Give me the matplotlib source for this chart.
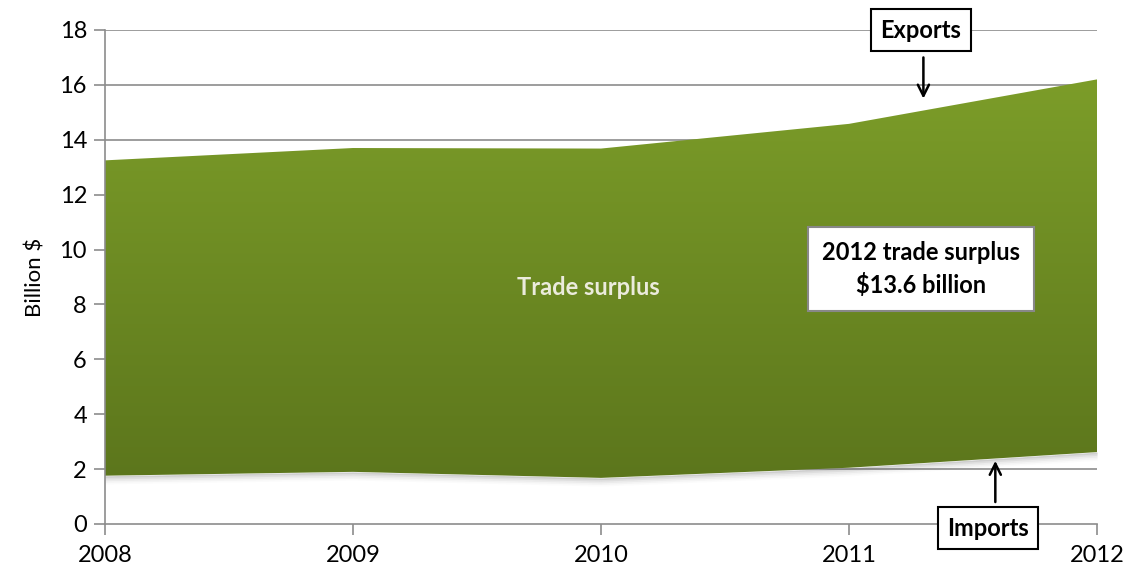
import matplotlib.pyplot as plt
import numpy as np
from matplotlib.colors import LinearSegmentedColormap

years = [2008, 2009, 2010, 2011, 2012]
exports = [13.25, 13.7, 13.68, 14.58, 16.2]
imports = [1.76, 1.9, 1.68, 2.05, 2.62]
yticks = [0, 2, 4, 6, 8, 10, 12, 14, 16, 18]

plt.rcParams['font.family'] = ['Lato', 'DejaVu Sans']

fig = plt.figure(figsize=(11.28, 5.74), dpi=100)
ax = fig.add_axes([105 / 1128, 50 / 574, 992 / 1128, 494 / 574])
ax.set_xlim(2008, 2012)
ax.set_ylim(0, 18)

# grid behind the filled area
for y in yticks[1:]:
    ax.axhline(y, color="#8c8c8c", lw=1.2, zorder=0)

# soft shadow along the lower edge
for i, a in enumerate(np.linspace(0.10, 0.02, 5)):
    off = 0.06 * (i + 1)
    ax.fill_between(years, [v - off for v in imports], imports,
                    color="#555555", alpha=a, lw=0, zorder=1)

# trade surplus area with vertical gradient
poly = ax.fill_between(years, imports, exports, color="none", lw=0, zorder=2)
cmap = LinearSegmentedColormap.from_list("g", ["#5c761c", "#7c9d29"])
grad = np.linspace(0, 1, 256).reshape(-1, 1)
img = ax.imshow(grad, cmap=cmap, aspect="auto", origin="lower",
                extent=[2008, 2012, min(imports), max(exports)], zorder=2)
img.set_clip_path(poly.get_paths()[0], transform=ax.transData)

ax.set_xticks(years)
ax.set_yticks(yticks)
ax.tick_params(axis="both", direction="out", length=8, width=1.2,
               color="#8c8c8c", labelsize=17, labelcolor="black")
ax.tick_params(axis="y", pad=5)
ax.tick_params(axis="x", pad=7)
for s in ["top", "right"]:
    ax.spines[s].set_visible(False)
for s in ["left", "bottom"]:
    ax.spines[s].set_color("#8c8c8c")
    ax.spines[s].set_linewidth(1.2)
ax.set_ylabel("Billion $", fontsize=16, labelpad=10)

ax.text(2009.95, 8.6, "Trade surplus", color="#ebebdc", fontsize=17,
        fontweight="bold", ha="center", va="center", zorder=5)

ax.text(2011.29, 9.3, "2012 trade surplus\n$13.6 billion", fontsize=17,
        fontweight="bold", ha="center", va="center", linespacing=1.45,
        bbox=dict(boxstyle="square,pad=0.6", facecolor="white",
                  edgecolor="#888888", lw=1.5), zorder=6)

tag = dict(boxstyle="square,pad=0.4", facecolor="white", edgecolor="black", lw=1.5)
arrow = dict(arrowstyle="->", color="black", lw=1.8, shrinkA=0, shrinkB=0,
             mutation_scale=20)

ax.text(2011.29, 18.0, "Exports", fontsize=17, fontweight="bold",
        ha="center", va="center", bbox=tag, zorder=7, clip_on=False)
ax.annotate("", xy=(2011.30, 15.5), xytext=(2011.30, 17.0),
            arrowprops=arrow, annotation_clip=False, zorder=7)

ax.text(2011.56, -0.15, "Imports", fontsize=17, fontweight="bold",
        ha="center", va="center", bbox=tag, zorder=7, clip_on=False)
ax.annotate("", xy=(2011.59, 2.3), xytext=(2011.59, 0.8),
            arrowprops=arrow, annotation_clip=False, zorder=7)

fig.savefig("out.png", dpi=100)
